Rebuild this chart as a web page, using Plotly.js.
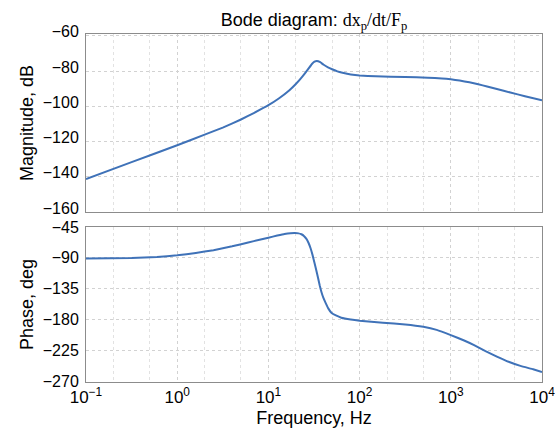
<!DOCTYPE html>
<html>
<head>
<meta charset="utf-8">
<script src="https://cdn.plot.ly/plotly-3.0.1.min.js"></script>
<style>html,body{margin:0;padding:0;background:#fff;}#chart{width:558px;height:448px;}</style>
</head>
<body>
<div id="chart"></div>
<script>
const magFreq = [0.1, 0.316, 1, 2, 3.16, 5, 7, 10, 13, 17, 20, 23.8, 27, 30, 32, 34, 37, 40, 45, 50, 57, 65, 80, 100, 150, 316, 560, 800, 1000, 1250, 1600, 2000, 2500, 3200, 4500, 6500, 10000];
const magDb   = [-141.3, -131.7, -122.1, -116.1, -112.1, -107.5, -103.7, -99.4, -95.6, -90.9, -87.4, -82.9, -79.2, -76.0, -74.7, -74.3, -75.0, -76.3, -77.9, -79.0, -80.2, -81.0, -82.0, -82.6, -83.0, -83.4, -83.8, -84.2, -84.7, -85.4, -86.4, -87.5, -88.8, -90.2, -92.2, -94.3, -96.6];
const phFreq  = [0.1, 0.316, 0.6, 1, 1.6, 2.5, 4, 6, 8, 10, 12.5, 15, 17.5, 19.5, 21.5, 23, 24.5, 26, 27.5, 29, 30.5, 32, 33.5, 35, 36.5, 38, 40, 42.5, 45.5, 49, 55, 63, 80, 100, 180, 316, 500, 700, 1000, 1400, 1800, 2400, 3200, 4300, 5800, 8000, 10000];
const phDeg   = [-91, -90.3, -88.8, -86.3, -82.8, -78.8, -73.2, -67.6, -63.5, -60.6, -57.5, -55.2, -54.0, -53.7, -54.3, -55.6, -58, -62, -68, -76, -86, -97, -108, -119, -130, -139, -148, -156, -164, -170, -174, -177.2, -180, -181.7, -184.5, -187, -190.5, -195, -202.6, -210.5, -217.2, -226, -234, -241.5, -247.5, -252.5, -256.5];
const xTickVals = [0.1, 1, 10, 100, 1000, 10000];
const xTickText = ['10<sup>\u22121</sup>', '10<sup>0</sup>', '10<sup>1</sup>', '10<sup>2</sup>', '10<sup>3</sup>', '10<sup>4</sup>'];
const magTicks = [-60, -80, -100, -120, -140, -160];
const phTicks  = [-45, -90, -135, -180, -225, -270];
const fmt = v => '\u2212' + Math.abs(v);

const lineStyle = {color: '#3f72b8', width: 2, shape: 'spline', smoothing: 0.3};
const traces = [
  {x: magFreq, y: magDb, type: 'scatter', mode: 'lines', line: lineStyle, xaxis: 'x', yaxis: 'y', hoverinfo: 'skip'},
  {x: phFreq, y: phDeg, type: 'scatter', mode: 'lines', line: lineStyle, xaxis: 'x2', yaxis: 'y2', hoverinfo: 'skip'}
];

const fam = '"Liberation Sans", Arial, sans-serif';
const tickFont = {family: fam, size: 16, color: '#000'};
const xTickFont = {family: fam, size: 17, color: '#000'};
const titleFont = {family: fam, size: 18, color: '#000'};
const gridCol = '#d2d2d2';
const minorCfg = {showgrid: true, gridcolor: '#e2e2e2', griddash: 'dot', gridwidth: 1};
const xBase = {
  type: 'log', range: [-1, 4], tickvals: xTickVals, ticktext: xTickText,
  showgrid: true, gridcolor: gridCol, griddash: 'dot', gridwidth: 1,
  minor: minorCfg,
  showline: true, linecolor: '#8c8c8c', linewidth: 1, mirror: true,
  ticks: '', zeroline: false, tickfont: xTickFont
};
const yBase = {
  showgrid: true, gridcolor: gridCol, griddash: 'dot', gridwidth: 1,
  showline: true, linecolor: '#8c8c8c', linewidth: 1, mirror: true,
  ticks: '', zeroline: false, tickfont: tickFont, ticklabelstandoff: 3
};

const layout = {
  width: 558, height: 448,
  margin: {l: 86, r: 16, t: 34, b: 66},
  paper_bgcolor: '#fff', plot_bgcolor: '#fff',
  showlegend: false,
  font: tickFont,
  title: {
    text: 'Bode diagram: <span style="font-family:\'Liberation Serif\',serif">dx<sub>p</sub>/dt/F<sub>p</sub></span>',
    font: {family: fam, size: 18, color: '#000'},
    x: 0.5, xanchor: 'center', y: 0.955, yanchor: 'middle', xref: 'paper'
  },
  xaxis: {...xBase, domain: [0, 1], anchor: 'y', showticklabels: false},
  yaxis: {...yBase, domain: [0.4885, 1], range: [-160, -59], tickvals: magTicks, ticktext: magTicks.map(fmt), ticklabelshift: -4,
          title: {text: 'Magnitude, dB', font: titleFont, standoff: 4}},
  xaxis2: {...xBase, domain: [0, 1], anchor: 'y2', title: {text: 'Frequency, Hz', font: titleFont, standoff: 4}},
  yaxis2: {...yBase, domain: [0, 0.4454], range: [-271, -45], tickvals: phTicks, ticktext: phTicks.map(fmt), ticklabelshift: 0,
           title: {text: 'Phase, deg', font: titleFont, standoff: 4}}
};

Plotly.newPlot('chart', traces, layout, {staticPlot: true, displayModeBar: false});
</script>
</body>
</html>
